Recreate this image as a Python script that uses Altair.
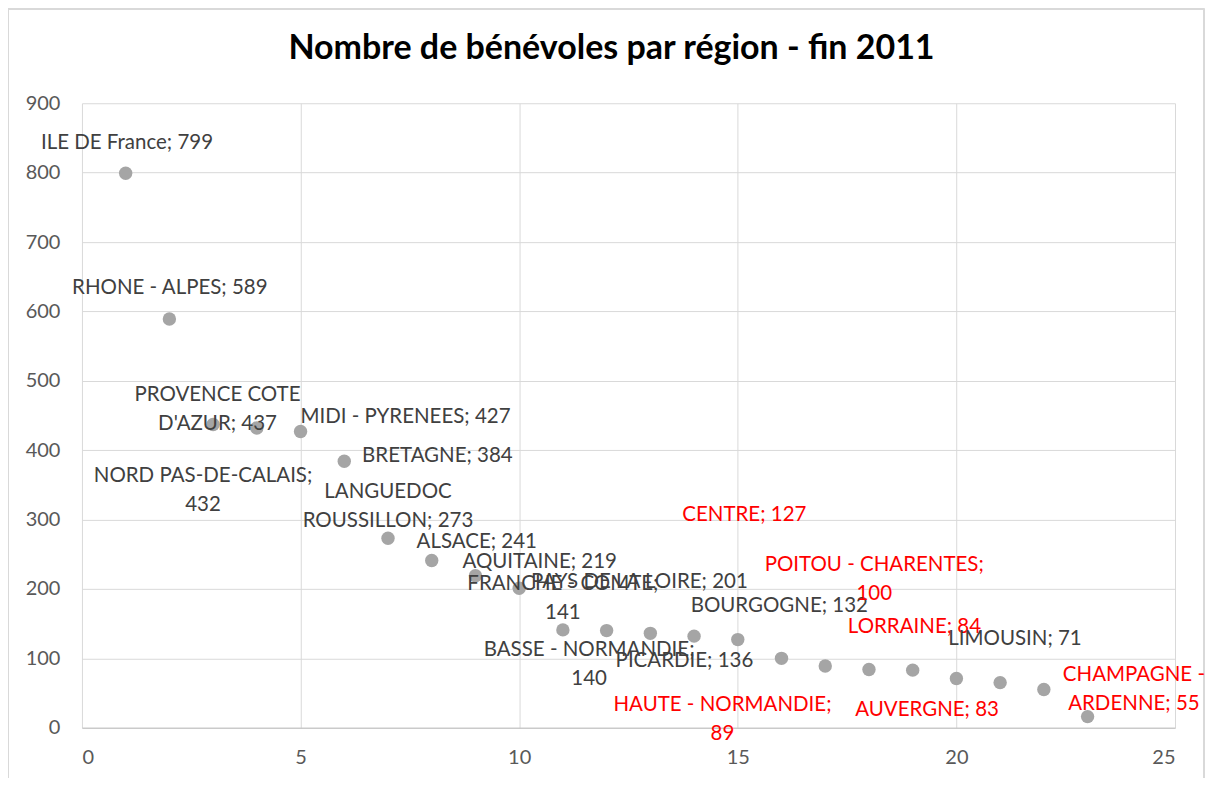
import altair as alt
import pandas as pd

rank = list(range(1, 24))
benevoles = [799, 589, 437, 432, 427, 384, 273, 241, 219, 201, 141, 140, 136,
             132, 127, 100, 89, 84, 83, 71, 65, 55, 16]

label_text = [
    "ILE DE France; 799", "RHONE - ALPES; 589", "PROVENCE COTE\nD'AZUR; 437",
    "NORD PAS-DE-CALAIS;\n432", "MIDI - PYRENEES; 427", "BRETAGNE; 384",
    "LANGUEDOC\nROUSSILLON; 273", "ALSACE; 241", "AQUITAINE; 219",
    "PAYS DE LA LOIRE; 201", "FRANCHE - COMTE;\n141", "BASSE - NORMANDIE;\n140",
    "PICARDIE; 136", "BOURGOGNE; 132", "CENTRE; 127", "POITOU - CHARENTES;\n100",
    "HAUTE - NORMANDIE;\n89", "LORRAINE; 84", "AUVERGNE; 83", "LIMOUSIN; 71",
    "CHAMPAGNE -\nARDENNE; 55",
]
# label anchor positions in data units
label_x = [1.03, 2.01, 3.1, 2.77, 7.4, 8.13, 7.0, 9.03, 10.47, 12.75, 11.0, 11.6,
           13.78, 15.95, 15.15, 18.12, 14.65, 19.04, 19.33, 21.34, 24.06]
label_y = [842, 634, 480, 363, 448, 392, 340, 268, 239, 210, 207, 112,
           96, 176, 307, 235, 33, 145, 26, 128, 76]
label_red = [False] * 14 + [True, True, True, True, True, False, True]

pts = pd.DataFrame({"rang": rank, "benevoles": benevoles})
labs = pd.DataFrame({
    "t": label_text, "lx": label_x, "ly": label_y,
    "c": ["#ff0000" if r else "#404040" for r in label_red],
})

FONT = "Lato"
xs = alt.Scale(domain=[0, 25], nice=False)
ys = alt.Scale(domain=[0, 900], nice=False)

frame = alt.Chart(pts).mark_rect(fill=None, stroke="#d9d9d9", strokeWidth=1).encode(
    x=alt.value(-73.5), x2=alt.value(1123), y=alt.value(-94.5), y2=alt.value(680)
)

points = alt.Chart(pts).mark_circle(size=180, color="#a5a5a5", opacity=1).encode(
    x=alt.X("rang:Q", scale=xs, title=None,
            axis=alt.Axis(values=[0, 5, 10, 15, 20, 25], grid=True, ticks=False,
                          labelPadding=20, domainColor="#bfbfbf")),
    y=alt.Y("benevoles:Q", scale=ys, title=None,
            axis=alt.Axis(values=list(range(0, 901, 100)), grid=True, ticks=False,
                          domain=False, labelPadding=22)),
)

labels = alt.Chart(labs).mark_text(
    font=FONT, fontSize=20.5, lineBreak="\n", lineHeight=29,
    align="center", baseline="middle"
).encode(
    x=alt.X("lx:Q", scale=xs), y=alt.Y("ly:Q", scale=ys),
    text="t:N", color=alt.Color("c:N", scale=None),
)

chart = alt.layer(frame, points, labels).properties(
    width=1094, height=625,
    title=alt.TitleParams("Nombre de bénévoles par région - fin 2011", font=FONT,
                          fontSize=34, fontWeight="bold", color="#000000",
                          anchor="middle", frame="group", dx=-17, offset=-58),
    autosize=alt.AutoSizeParams(type="none"),
    padding={"left": 74, "top": 95, "right": 30, "bottom": 50},
).configure_axis(
    labelFont=FONT, labelFontSize=20, labelColor="#595959", gridColor="#d9d9d9",
).configure_view(stroke=None)

chart.save("out.html", embed_options={"renderer": "svg", "actions": False})
